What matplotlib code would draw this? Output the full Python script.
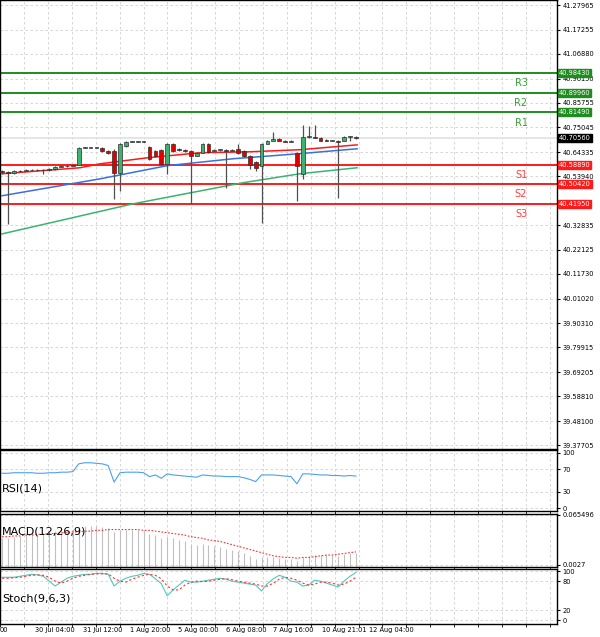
import matplotlib
matplotlib.use("Agg")
import matplotlib.pyplot as plt
import numpy as np

opens = [40.560,40.556,40.554,40.560,40.563,40.567,40.565,40.568,40.565,40.572,40.580,40.582,40.585,
         40.589,40.663,40.663,40.663,40.663,40.650,40.650,40.554,40.671,40.689,40.689,40.689,
         40.667,40.650,40.654,40.593,40.680,40.658,40.654,40.650,40.628,40.641,40.680,40.650,40.654,
         40.654,40.650,40.658,40.650,40.628,40.600,40.585,40.680,40.693,40.702,40.693,40.689,
         40.641,40.550,40.710,40.710,40.706,40.698,40.693,40.693,40.693,40.710,40.706]
closes = [40.556,40.554,40.560,40.563,40.567,40.565,40.568,40.565,40.572,40.580,40.582,40.585,40.588,
          40.663,40.663,40.663,40.663,40.650,40.641,40.554,40.680,40.689,40.689,40.689,40.689,
          40.615,40.628,40.593,40.680,40.650,40.654,40.650,40.628,40.641,40.680,40.645,40.654,40.654,
          40.650,40.654,40.641,40.628,40.587,40.575,40.680,40.693,40.702,40.693,40.689,40.693,
          40.585,40.710,40.710,40.706,40.693,40.693,40.693,40.689,40.710,40.710,40.7056]
lows = [40.548,40.333,40.550,40.558,40.560,40.562,40.562,40.548,40.562,40.568,40.578,40.580,40.583,
        40.587,40.660,40.660,40.660,40.645,40.637,40.441,40.476,40.667,40.686,40.686,40.686,
        40.610,40.622,40.588,40.550,40.645,40.650,40.646,40.420,40.625,40.638,40.640,40.648,40.650,
        40.489,40.648,40.636,40.622,40.570,40.560,40.337,40.677,40.690,40.690,40.686,40.686,
        40.433,40.528,40.706,40.703,40.690,40.690,40.690,40.446,40.690,40.693,40.700]
highs = [40.565,40.560,40.565,40.566,40.570,40.570,40.572,40.572,40.576,40.584,40.586,40.589,40.592,
         40.667,40.667,40.667,40.667,40.667,40.654,40.658,40.684,40.693,40.693,40.693,40.693,
         40.671,40.654,40.658,40.684,40.684,40.662,40.658,40.654,40.645,40.684,40.684,40.658,40.658,
         40.658,40.658,40.680,40.654,40.632,40.604,40.684,40.697,40.730,40.706,40.697,40.697,
         40.645,40.763,40.758,40.763,40.710,40.702,40.697,40.697,40.714,40.715,40.712]

ma_red_x = [0, 13.2, 16.6, 24.6, 33.6, 42.0, 50.5, 60.2]
ma_red_y = [40.550, 40.576, 40.593, 40.619, 40.641, 40.645, 40.654, 40.675]
ma_blue_x = [0, 16.6, 28.0, 39.2, 50.5, 60.2]
ma_blue_y = [40.455, 40.528, 40.585, 40.615, 40.637, 40.658]
ma_green_x = [0, 22.2, 40.8, 50.5, 60.2]
ma_green_y = [40.290, 40.420, 40.511, 40.550, 40.576]

levels = [40.98430, 40.89960, 40.81490, 40.58890, 40.50420, 40.41950]
level_names = ["R3", "R2", "R1", "S1", "S2", "S3"]
current = 40.70560
price_ticks = [41.27965,41.17255,41.06880,40.96150,40.85755,40.75045,40.64335,40.53940,
               40.32835,40.22125,40.11730,40.01020,39.90310,39.79915,39.69205,39.58810,39.48100,39.37705]

rsi = [63,63,64,64,64,64,63,63,64,64,65,65,66,80,82,82,81,80,77,47,64,65,65,65,64,57,60,54,62,
       60,59,58,57,56,60,59,58,58,57,57,57,55,52,48,60,60,60,59,58,57,44,62,62,61,60,60,59,59,58,59,58]
macd_hist = [0.036,0.037,0.038,0.039,0.040,0.041,0.042,0.043,0.044,0.045,0.046,0.047,0.048,
             0.050,0.051,0.051,0.051,0.050,0.049,0.044,0.046,0.047,0.047,0.046,0.045,0.042,0.040,
             0.037,0.038,0.036,0.034,0.032,0.029,0.028,0.029,0.027,0.026,0.025,0.022,0.021,0.020,
             0.018,0.014,0.010,0.012,0.012,0.012,0.011,0.010,0.010,0.007,0.012,0.014,0.015,0.015,
             0.015,0.015,0.014,0.016,0.017,0.018]
macd_sig = [0.038,0.038,0.039,0.039,0.040,0.040,0.041,0.041,0.042,0.042,0.043,0.043,0.044,
            0.044,0.045,0.045,0.046,0.046,0.047,0.047,0.047,0.047,0.047,0.047,0.046,0.046,0.045,
            0.044,0.043,0.042,0.041,0.040,0.038,0.037,0.036,0.034,0.033,0.032,0.030,0.028,0.026,
            0.024,0.022,0.020,0.018,0.016,0.014,0.013,0.012,0.012,0.011,0.012,0.012,0.013,0.014,
            0.015,0.015,0.016,0.017,0.018,0.019]
stoch_k = [88,88,88,90,92,94,93,90,80,70,78,86,90,92,94,94,96,96,94,70,80,86,90,92,96,94,85,
           75,50,62,72,82,78,78,80,82,84,86,84,80,78,76,74,72,60,75,85,92,88,80,78,70,72,82,80,76,
           72,68,80,90,98]
stoch_d = [86,86,87,88,90,92,93,92,88,80,76,80,86,90,92,94,95,95,95,86,80,78,84,88,92,94,92,
           85,70,62,62,72,78,80,79,80,82,84,85,83,80,78,76,74,70,70,76,84,88,86,82,76,72,74,78,78,
           76,72,74,80,88]

date_labels = ["00", "30 Jul 04:00", "31 Jul 12:00", "1 Aug 20:00", "5 Aug 00:00",
               "6 Aug 08:00", "7 Aug 16:00", "10 Aug 21:01", "12 Aug 04:00"]
date_pos = [-0.3, 5.6, 13.7, 21.7, 29.8, 37.9, 46.0, 54.2, 62.3]

W, H = 600, 637
fig = plt.figure(figsize=(6, 6.37), dpi=100)
fig.patch.set_facecolor("white")
xl = (-0.35, 94.1)
right = 557 / W

def add(top, bottom):
    return fig.add_axes([0, 1 - bottom / H, right, (bottom - top) / H])

def style(ax):
    ax.set_xlim(*xl)
    ax.yaxis.tick_right()
    ax.tick_params(axis="y", labelsize=4.8, length=2, pad=2)
    ax.tick_params(axis="x", bottom=False, labelbottom=False)
    for s in ax.spines.values():
        s.set_color("black"); s.set_linewidth(1.0)
    ax.set_xticks(np.arange(-0.3, 94, 4.05), minor=True)
    ax.grid(True, which="minor", axis="x", color="#d0d0d0", ls=(0, (3, 3)), lw=0.6)
    ax.grid(True, which="major", axis="y", color="#d0d0d0", ls=(0, (3, 3)), lw=0.6)

ax = add(0, 449)
style(ax)
ax.set_ylim(39.360, 41.3013)
ax.set_yticks(price_ticks)
ax.set_yticklabels([f"{t:.5f}" for t in price_ticks])
ax.axhline(current, color="#e0e0e0", lw=1.2)
for lv, nm in zip(levels, level_names):
    c = "#1e8c1e" if nm.startswith("R") else "#ff1a1a"
    tc = "#3aa03a" if nm.startswith("R") else "#ff4040"
    ax.axhline(lv, color=c, lw=1.4)
    ax.text(88.0, lv - 0.022, nm, color=tc, fontsize=7, va="top", ha="center")
    ax.text(1.003, lv, f"{lv:.5f}", transform=ax.get_yaxis_transform(), fontsize=4.8,
            color="white", va="center", ha="left",
            bbox=dict(boxstyle="square,pad=0.15", fc=c, ec=c))
ax.text(1.003, current, f"{current:.5f}", transform=ax.get_yaxis_transform(), fontsize=4.8,
        color="white", va="center", ha="left",
        bbox=dict(boxstyle="square,pad=0.15", fc="black", ec="black"))
ax.plot(ma_green_x, ma_green_y, color="#3cb371", lw=1.1)
ax.plot(ma_blue_x, ma_blue_y, color="#3a6fe0", lw=1.1)
ax.plot(ma_red_x, ma_red_y, color="#ff1a1a", lw=1.1)
for i, (o, h, l, c) in enumerate(zip(opens, highs, lows, closes)):
    ax.vlines(i, l, h, color="#505050", lw=0.9, zorder=3)
    up = c >= o
    fc = "#3cb371" if up else "#e00000"
    b = max(abs(c - o), 0.0015)
    ax.add_patch(plt.Rectangle((i - 0.32, min(o, c)), 0.64, b, fc=fc, ec="#303030", lw=0.5, zorder=4))

x = np.arange(len(rsi))
a1 = add(450, 511)
style(a1)
a1.set_ylim(-5, 105)
a1.set_yticks([0, 30, 70, 100])
a1.plot(x, rsi, color="#4aa0f0", lw=0.8)
a1.text(0, 35, "RSI(14)", fontsize=8, va="center")

a2 = add(514, 567)
style(a2)
a2.set_ylim(0.0, 0.0665)
a2.set_yticks([0.0027, 0.065496])
a2.set_yticklabels(["0.0027", "0.065496"])
a2.vlines(x, 0, macd_hist, color="#c0c0c0", lw=0.8)
a2.plot(x, macd_sig, color="#ff3030", lw=0.8, ls=(0, (1.5, 1.5)))
a2.text(0, 0.045, "MACD(12,26,9)", fontsize=8, va="center")

a3 = add(569, 624)
style(a3)
a3.set_ylim(-8, 105)
a3.set_yticks([0, 20, 80, 100])
a3.plot(x, stoch_k, color="#50c8c0", lw=0.8)
a3.plot(x, stoch_d, color="#ff3030", lw=0.8, ls=(0, (2, 2)))
a3.text(0, 45, "Stoch(9,6,3)", fontsize=8, va="center")
for p, lab in zip(date_pos, date_labels):
    a3.text(p if lab != "00" else -0.35, -0.06, lab, transform=a3.get_xaxis_transform(),
            fontsize=4.8, va="top", ha="left")

fig.savefig("out.png", dpi=100, facecolor="white")
